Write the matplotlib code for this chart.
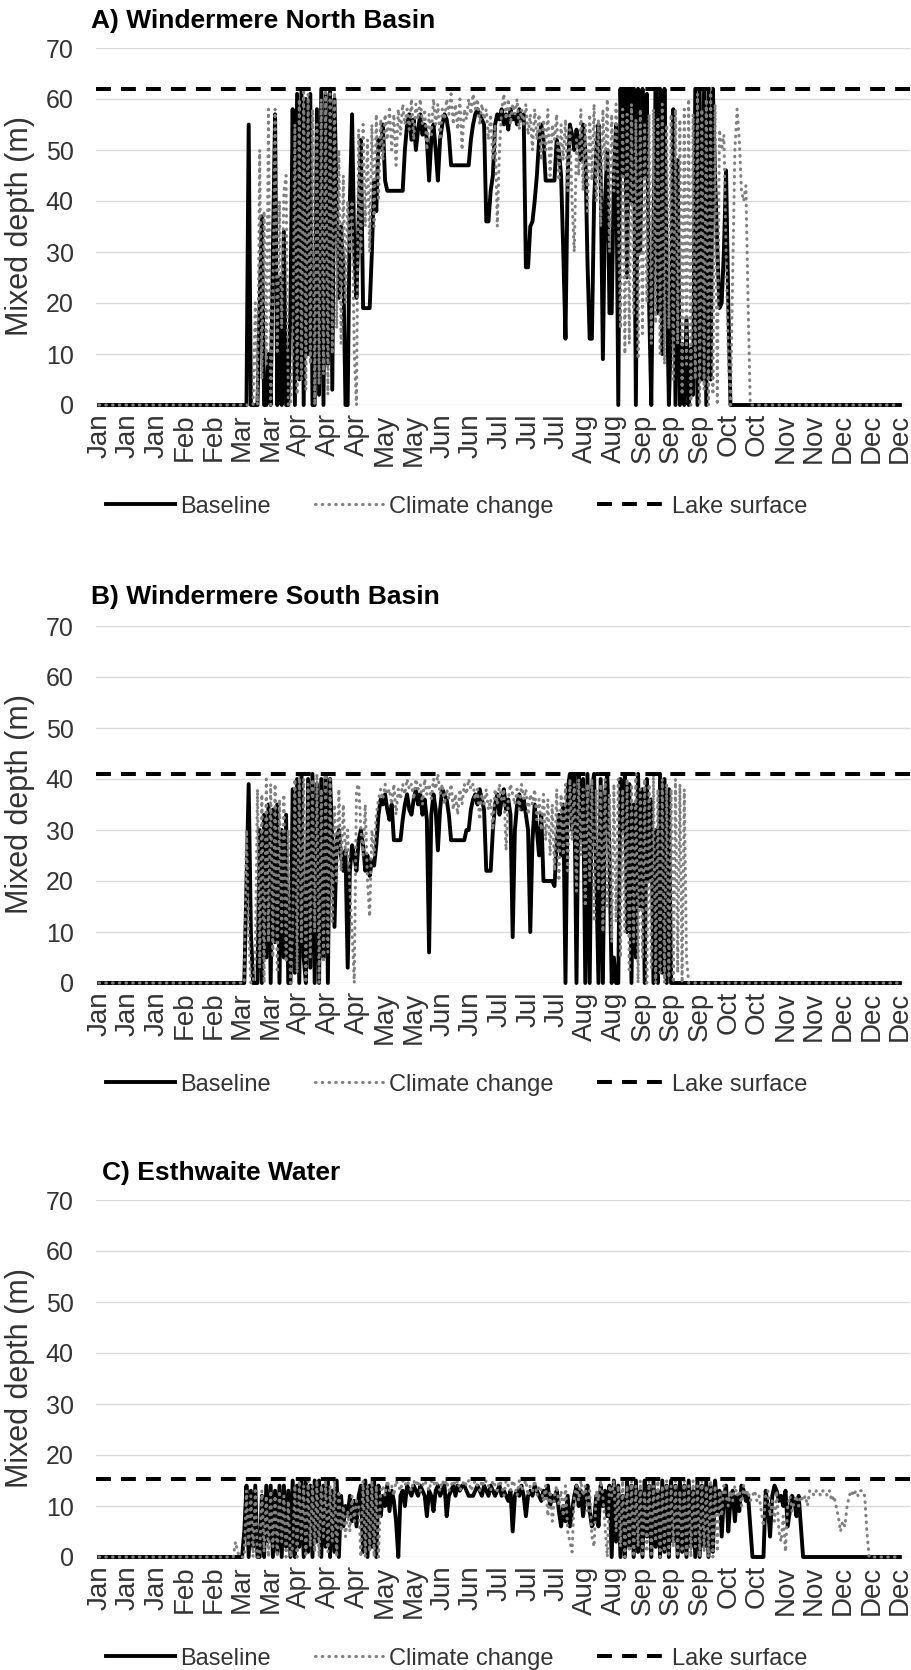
import matplotlib
matplotlib.use("Agg")
import matplotlib.pyplot as plt

plt.rcParams["font.family"] = ["Liberation Sans", "DejaVu Sans"]

month_labels = ["Jan", "Jan", "Jan", "Feb", "Feb", "Mar", "Mar", "Apr", "Apr", "Apr",
                "May", "May", "Jun", "Jun", "Jul", "Jul", "Jul", "Aug", "Aug", "Sep",
                "Sep", "Sep", "Oct", "Oct", "Nov", "Nov", "Dec", "Dec", "Dec"]
label_step = 13

titles = ["A) Windermere North Basin", "B) Windermere South Basin", "C) Esthwaite Water"]
lake_surface = [62, 41, 15.2]

north_baseline = [
    0, 0, 0, 0, 0, 0, 0, 0, 0, 0,  # 0
    0, 0, 0, 0, 0, 0, 0, 0, 0, 0,  # 10
    0, 0, 0, 0, 0, 0, 0, 0, 0, 0,  # 20
    0, 0, 0, 0, 0, 0, 0, 0, 0, 0,  # 30
    0, 0, 0, 0, 0, 0, 0, 0, 0, 0,  # 40
    0, 0, 0, 0, 0, 0, 0, 0, 0, 0,  # 50
    0, 0, 0, 0, 0, 0, 0, 0, 55, 0,  # 60
    0, 0, 0, 20, 37, 0, 0, 10, 0, 30,  # 70
    57, 0, 25, 0, 34, 0, 0, 20, 58, 0,  # 80
    61, 5, 62, 0, 60, 10, 61, 0, 0, 58,  # 90
    2, 62, 0, 61, 8, 62, 3, 60, 40, 21,  # 100
    35, 27, 0, 0, 40, 57, 30, 21, 37, 52,  # 110
    19, 19, 19, 19, 30, 44, 38, 52, 50, 55,  # 120
    44, 42, 42, 42, 42, 42, 42, 42, 42, 50,  # 130
    55, 57, 52, 56, 50, 54, 57, 53, 55, 52,  # 140
    44, 52, 55, 50, 44, 52, 55, 57, 56, 53,  # 150
    47, 47, 47, 47, 47, 47, 47, 47, 47, 52,  # 160
    55, 57, 58, 57, 56, 55, 36, 36, 42, 45,  # 170
    55, 57, 56, 58, 55, 57, 54, 58, 56, 57,  # 180
    55, 58, 56, 57, 27, 27, 35, 36, 40, 45,  # 190
    52, 55, 52, 44, 44, 44, 44, 44, 52, 50,  # 200
    45, 30, 13, 45, 55, 53, 50, 54, 52, 48,  # 210
    55, 50, 28, 13, 13, 40, 50, 55, 45, 9,  # 220
    40, 50, 18, 18, 45, 55, 0, 62, 45, 62,  # 230
    25, 62, 40, 62, 0, 62, 30, 62, 45, 61,  # 240
    20, 0, 35, 62, 18, 62, 10, 62, 25, 0,  # 250
    15, 58, 0, 48, 0, 12, 0, 17, 0, 11,  # 260
    2, 62, 0, 62, 5, 62, 0, 62, 5, 62,  # 270
    45, 31, 19, 20, 30, 46, 20, 0, 0, 0,  # 280
    0, 0, 0, 0, 0, 0, 0, 0, 0, 0,  # 290
    0, 0, 0, 0, 0, 0, 0, 0, 0, 0,  # 300
    0, 0, 0, 0, 0, 0, 0, 0, 0, 0,  # 310
    0, 0, 0, 0, 0, 0, 0, 0, 0, 0,  # 320
    0, 0, 0, 0, 0, 0, 0, 0, 0, 0,  # 330
    0, 0, 0, 0, 0, 0, 0, 0, 0, 0,  # 340
    0, 0, 0, 0, 0, 0, 0, 0, 0, 0,  # 350
    0, 0, 0, 0, 0,  # 360
]

north_climate = [
    0, 0, 0, 0, 0, 0, 0, 0, 0, 0,  # 0
    0, 0, 0, 0, 0, 0, 0, 0, 0, 0,  # 10
    0, 0, 0, 0, 0, 0, 0, 0, 0, 0,  # 20
    0, 0, 0, 0, 0, 0, 0, 0, 0, 0,  # 30
    0, 0, 0, 0, 0, 0, 0, 0, 0, 0,  # 40
    0, 0, 0, 0, 0, 0, 0, 0, 0, 0,  # 50
    0, 0, 0, 0, 0, 0, 0, 0, 0, 0,  # 60
    0, 20, 0, 50, 5, 38, 8, 58, 0, 20,  # 70
    58, 10, 40, 15, 42, 45, 0, 0, 10, 55,  # 80
    2, 60, 5, 62, 3, 61, 8, 58, 0, 55,  # 90
    4, 60, 6, 62, 2, 61, 10, 62, 15, 50,  # 100
    12, 45, 20, 40, 30, 40, 10, 0, 54, 30,  # 110
    55, 35, 52, 30, 55, 35, 57, 40, 56, 48,  # 120
    57, 52, 58, 50, 57, 47, 58, 53, 59, 55,  # 130
    58, 54, 60, 52, 59, 56, 60, 55, 58, 50,  # 140
    57, 53, 60, 55, 59, 52, 58, 56, 60, 57,  # 150
    61, 55, 59, 54, 60, 50, 58, 56, 60, 57,  # 160
    61, 58, 60, 55, 59, 56, 58, 52, 57, 48,  # 170
    55, 35, 50, 58, 61, 56, 60, 55, 59, 57,  # 180
    60, 54, 58, 55, 59, 53, 57, 50, 58, 52,  # 190
    57, 48, 56, 50, 58, 45, 55, 52, 57, 44,  # 200
    55, 48, 56, 42, 54, 40, 30, 52, 45, 58,  # 210
    42, 55, 38, 57, 44, 59, 40, 56, 35, 58,  # 220
    46, 60, 30, 57, 42, 59, 38, 15, 58, 10,  # 230
    57, 12, 59, 18, 56, 9, 58, 14, 55, 20,  # 240
    57, 12, 58, 16, 56, 10, 59, 8, 55, 15,  # 250
    57, 5, 58, 12, 56, 2, 58, 8, 60, 0,  # 260
    57, 5, 61, 0, 58, 3, 60, 0, 62, 2,  # 270
    59, 0, 54, 50, 53, 30, 10, 0, 25, 50,  # 280
    58, 52, 42, 40, 43, 20, 0, 0, 0, 0,  # 290
    0, 0, 0, 0, 0, 0, 0, 0, 0, 0,  # 300
    0, 0, 0, 0, 0, 0, 0, 0, 0, 0,  # 310
    0, 0, 0, 0, 0, 0, 0, 0, 0, 0,  # 320
    0, 0, 0, 0, 0, 0, 0, 0, 0, 0,  # 330
    0, 0, 0, 0, 0, 0, 0, 0, 0, 0,  # 340
    0, 0, 0, 0, 0, 0, 0, 0, 0, 0,  # 350
    0, 0, 0, 0, 0,  # 360
]

south_baseline = [
    0, 0, 0, 0, 0, 0, 0, 0, 0, 0,  # 0
    0, 0, 0, 0, 0, 0, 0, 0, 0, 0,  # 10
    0, 0, 0, 0, 0, 0, 0, 0, 0, 0,  # 20
    0, 0, 0, 0, 0, 0, 0, 0, 0, 0,  # 30
    0, 0, 0, 0, 0, 0, 0, 0, 0, 0,  # 40
    0, 0, 0, 0, 0, 0, 0, 0, 0, 0,  # 50
    0, 0, 0, 0, 0, 0, 0, 20, 39, 10,  # 60
    0, 0, 0, 30, 0, 33, 5, 35, 0, 34,  # 70
    8, 35, 0, 30, 5, 33, 0, 0, 38, 2,  # 80
    40, 0, 41, 5, 0, 40, 3, 41, 0, 39,  # 90
    0, 40, 5, 41, 0, 40, 28, 11, 28, 30,  # 100
    25, 22, 26, 3, 22, 27, 25, 22, 28, 30,  # 110
    27, 22, 25, 21, 24, 23, 27, 33, 36, 35,  # 120
    37, 34, 32, 35, 28, 28, 28, 28, 32, 35,  # 130
    37, 34, 33, 36, 38, 35, 37, 33, 36, 32,  # 140
    6, 33, 37, 34, 26, 34, 38, 37, 36, 33,  # 150
    28, 28, 28, 28, 28, 28, 28, 30, 30, 34,  # 160
    36, 37, 35, 38, 36, 34, 22, 22, 22, 30,  # 170
    35, 37, 33, 36, 38, 34, 36, 33, 9, 30,  # 180
    35, 37, 34, 36, 33, 30, 10, 28, 35, 30,  # 190
    25, 33, 20, 20, 20, 20, 20, 19, 27, 33,  # 200
    25, 35, 0, 38, 41, 30, 41, 0, 41, 28,  # 210
    40, 0, 41, 0, 38, 41, 20, 0, 40, 0,  # 220
    37, 41, 25, 0, 5, 0, 0, 40, 30, 41,  # 230
    10, 39, 0, 35, 5, 41, 15, 38, 0, 40,  # 240
    20, 36, 0, 30, 0, 41, 2, 40, 0, 38,  # 250
    0, 0, 0, 0, 0, 0, 0, 0, 0, 0,  # 260
    0, 0, 0, 0, 0, 0, 0, 0, 0, 0,  # 270
    0, 0, 0, 0, 0, 0, 0, 0, 0, 0,  # 280
    0, 0, 0, 0, 0, 0, 0, 0, 0, 0,  # 290
    0, 0, 0, 0, 0, 0, 0, 0, 0, 0,  # 300
    0, 0, 0, 0, 0, 0, 0, 0, 0, 0,  # 310
    0, 0, 0, 0, 0, 0, 0, 0, 0, 0,  # 320
    0, 0, 0, 0, 0, 0, 0, 0, 0, 0,  # 330
    0, 0, 0, 0, 0, 0, 0, 0, 0, 0,  # 340
    0, 0, 0, 0, 0, 0, 0, 0, 0, 0,  # 350
    0, 0, 0, 0, 0,  # 360
]

south_climate = [
    0, 0, 0, 0, 0, 0, 0, 0, 0, 0,  # 0
    0, 0, 0, 0, 0, 0, 0, 0, 0, 0,  # 10
    0, 0, 0, 0, 0, 0, 0, 0, 0, 0,  # 20
    0, 0, 0, 0, 0, 0, 0, 0, 0, 0,  # 30
    0, 0, 0, 0, 0, 0, 0, 0, 0, 0,  # 40
    0, 0, 0, 0, 0, 0, 0, 0, 0, 0,  # 50
    0, 0, 0, 0, 0, 0, 0, 30, 10, 0,  # 60
    0, 5, 38, 3, 37, 0, 40, 8, 39, 5,  # 70
    39, 2, 36, 10, 37, 4, 30, 0, 10, 40,  # 80
    2, 41, 8, 40, 0, 39, 5, 40, 10, 41,  # 90
    0, 38, 4, 41, 6, 40, 12, 35, 20, 38,  # 100
    22, 35, 25, 30, 18, 10, 0, 38, 39, 30,  # 110
    25, 35, 20, 13, 30, 25, 33, 36, 38, 36,  # 120
    39, 37, 38, 35, 39, 33, 38, 36, 39, 37,  # 130
    40, 38, 39, 36, 40, 38, 39, 35, 40, 37,  # 140
    39, 36, 40, 38, 41, 37, 39, 35, 38, 36,  # 150
    39, 34, 37, 33, 38, 35, 39, 37, 40, 38,  # 160
    39, 36, 38, 32, 37, 35, 38, 34, 36, 30,  # 170
    38, 35, 39, 36, 38, 26, 36, 39, 37, 35,  # 180
    38, 34, 39, 36, 38, 33, 37, 35, 38, 32,  # 190
    36, 30, 37, 28, 36, 25, 35, 22, 38, 20,  # 200
    37, 25, 39, 22, 40, 28, 39, 18, 40, 25,  # 210
    38, 15, 39, 20, 40, 12, 38, 18, 39, 10,  # 220
    40, 15, 37, 8, 39, 12, 40, 5, 38, 10,  # 230
    40, 2, 39, 8, 41, 0, 38, 5, 40, 0,  # 240
    39, 3, 41, 0, 38, 2, 40, 0, 39, 1,  # 250
    38, 0, 40, 2, 39, 0, 38, 5, 0, 0,  # 260
    0, 0, 0, 0, 0, 0, 0, 0, 0, 0,  # 270
    0, 0, 0, 0, 0, 0, 0, 0, 0, 0,  # 280
    0, 0, 0, 0, 0, 0, 0, 0, 0, 0,  # 290
    0, 0, 0, 0, 0, 0, 0, 0, 0, 0,  # 300
    0, 0, 0, 0, 0, 0, 0, 0, 0, 0,  # 310
    0, 0, 0, 0, 0, 0, 0, 0, 0, 0,  # 320
    0, 0, 0, 0, 0, 0, 0, 0, 0, 0,  # 330
    0, 0, 0, 0, 0, 0, 0, 0, 0, 0,  # 340
    0, 0, 0, 0, 0, 0, 0, 0, 0, 0,  # 350
    0, 0, 0, 0, 0,  # 360
]

esthwaite_baseline = [
    0, 0, 0, 0, 0, 0, 0, 0, 0, 0,  # 0
    0, 0, 0, 0, 0, 0, 0, 0, 0, 0,  # 10
    0, 0, 0, 0, 0, 0, 0, 0, 0, 0,  # 20
    0, 0, 0, 0, 0, 0, 0, 0, 0, 0,  # 30
    0, 0, 0, 0, 0, 0, 0, 0, 0, 0,  # 40
    0, 0, 0, 0, 0, 0, 0, 0, 0, 0,  # 50
    0, 0, 0, 0, 0, 0, 5, 14, 0, 13,  # 60
    2, 14, 0, 0, 12, 0, 14, 3, 14, 0,  # 70
    13, 1, 14, 0, 14, 2, 13, 0, 15, 0,  # 80
    14, 2, 15, 0, 15, 1, 14, 0, 15, 3,  # 90
    15, 0, 14, 2, 15, 0, 13, 1, 15, 0,  # 100
    12, 6, 10, 8, 12, 7, 11, 6, 12, 14,  # 110
    1, 15, 0, 14, 2, 15, 0, 14, 8, 12,  # 120
    10, 14, 9, 13, 11, 7, 0, 12, 13, 10,  # 130
    14, 13, 12, 14, 13, 12, 14, 13, 12, 8,  # 140
    13, 12, 9, 13, 14, 12, 13, 14, 8, 12,  # 150
    13, 14, 12, 14, 13, 14, 14, 13, 12, 12,  # 160
    12, 13, 14, 13, 12, 14, 13, 12, 14, 13,  # 170
    12, 13, 14, 12, 13, 12, 11, 13, 5, 12,  # 180
    13, 12, 14, 12, 8, 12, 13, 12, 14, 13,  # 190
    12, 11, 13, 12, 14, 10, 12, 11, 13, 9,  # 200
    6, 10, 7, 12, 6, 9, 12, 14, 10, 13,  # 210
    8, 12, 14, 9, 6, 7, 12, 6, 14, 10,  # 220
    13, 8, 14, 0, 15, 3, 14, 0, 12, 0,  # 230
    15, 2, 14, 0, 15, 1, 13, 0, 15, 4,  # 240
    14, 0, 15, 2, 13, 0, 15, 1, 14, 0,  # 250
    15, 3, 14, 0, 15, 1, 14, 0, 15, 2,  # 260
    13, 0, 15, 0, 14, 2, 15, 0, 14, 1,  # 270
    15, 9, 13, 4, 12, 14, 5, 11, 13, 7,  # 280
    12, 9, 14, 13, 11, 12, 6, 0, 0, 0,  # 290
    0, 0, 0, 13, 10, 4, 12, 14, 13, 11,  # 300
    12, 10, 13, 6, 9, 12, 11, 8, 12, 6,  # 310
    0, 0, 0, 0, 0, 0, 0, 0, 0, 0,  # 320
    0, 0, 0, 0, 0, 0, 0, 0, 0, 0,  # 330
    0, 0, 0, 0, 0, 0, 0, 0, 0, 0,  # 340
    0, 0, 0, 0, 0, 0, 0, 0, 0, 0,  # 350
    0, 0, 0, 0, 0,  # 360
]

esthwaite_climate = [
    0, 0, 0, 0, 0, 0, 0, 0, 0, 0,  # 0
    0, 0, 0, 0, 0, 0, 0, 0, 0, 0,  # 10
    0, 0, 0, 0, 0, 0, 0, 0, 0, 0,  # 20
    0, 0, 0, 0, 0, 0, 0, 0, 0, 0,  # 30
    0, 0, 0, 0, 0, 0, 0, 0, 0, 0,  # 40
    0, 0, 0, 0, 0, 0, 0, 0, 0, 0,  # 50
    0, 0, 3, 1, 0, 0, 0, 13, 2, 12,  # 60
    0, 13, 0, 0, 13, 1, 12, 0, 13, 2,  # 70
    12, 0, 13, 3, 12, 0, 11, 0, 2, 14,  # 80
    0, 15, 3, 14, 0, 15, 2, 14, 1, 15,  # 90
    0, 14, 4, 15, 1, 14, 3, 15, 0, 13,  # 100
    5, 10, 4, 9, 5, 12, 7, 11, 10, 0,  # 110
    15, 0, 14, 1, 15, 0, 14, 0, 13, 14,  # 120
    12, 15, 13, 14, 12, 15, 14, 13, 15, 14,  # 130
    15, 14, 13, 15, 14, 15, 13, 14, 15, 14,  # 140
    13, 15, 14, 15, 14, 13, 15, 14, 15, 13,  # 150
    14, 15, 14, 15, 13, 14, 15, 14, 15, 13,  # 160
    14, 15, 14, 13, 15, 14, 15, 14, 13, 15,  # 170
    14, 13, 15, 14, 12, 15, 14, 13, 15, 14,  # 180
    12, 15, 13, 14, 15, 12, 14, 13, 15, 12,  # 190
    14, 13, 11, 14, 8, 13, 7, 12, 14, 10,  # 200
    13, 8, 14, 5, 3, 1, 12, 14, 11, 15,  # 210
    12, 14, 9, 13, 4, 2, 13, 11, 15, 12,  # 220
    6, 0, 14, 12, 15, 5, 14, 2, 15, 0,  # 230
    14, 1, 15, 0, 14, 2, 15, 0, 13, 1,  # 240
    15, 0, 14, 3, 15, 0, 14, 1, 15, 0,  # 250
    14, 2, 15, 0, 13, 1, 15, 0, 14, 0,  # 260
    15, 2, 14, 0, 15, 1, 14, 0, 15, 0,  # 270
    14, 1, 13, 8, 14, 12, 10, 13, 11, 14,  # 280
    12, 13, 10, 14, 12, 13, 11, 12, 13, 11,  # 290
    12, 9, 6, 12, 13, 8, 11, 7, 13, 5,  # 300
    3, 8, 1, 10, 12, 9, 11, 12, 10, 12,  # 310
    11, 12, 10, 13, 13, 12, 13, 13, 12, 13,  # 320
    13, 12, 13, 11, 12, 10, 8, 5, 7, 6,  # 330
    10, 12, 13, 12, 13, 12, 13, 13, 12, 5,  # 340
    0, 0, 0, 0, 0, 0, 0, 0, 0, 0,  # 350
    0, 0, 0, 0, 0,  # 360
]

panels = [
    (north_baseline, north_climate),
    (south_baseline, south_climate),
    (esthwaite_baseline, esthwaite_climate),
]
for base, cc in panels:
    assert len(base) == 365 and len(cc) == 365, (len(base), len(cc))

days = list(range(len(north_baseline)))

# axes placement in figure pixels (912 x 1670)
axes_bottom_px = [405, 983, 1557]
title_offset = [(-5, 27), (-5, 29), (6, 27)]


def draw_panel(ax, baseline, climate, lake, title, offset):
    ax.plot(days, baseline, color="black", lw=2.8, label="Baseline",
            clip_on=False, zorder=3)
    ax.plot(days, climate, color="#808080", lw=2.2, label="Climate change",
            linestyle=(0, (0.2, 2.0)), dash_capstyle="round", clip_on=False,
            zorder=4)
    ax.axhline(lake, color="black", lw=2.9, linestyle=(0, (3.7, 2.5)),
               label="Lake surface", zorder=5)

    ax.set_xlim(-1.4, 368.6)
    ax.set_ylim(0, 70)
    ax.set_yticks(range(0, 71, 10))
    ax.set_xticks(days[::label_step])
    ax.set_xticklabels(month_labels, rotation=90, fontsize=20, color="#333333")
    ax.tick_params(axis="y", length=0, pad=16, labelsize=18, labelcolor="#333333")
    ax.tick_params(axis="x", length=0, pad=6)
    ax.grid(axis="y", color="#d9d9d9", lw=1.0)
    ax.set_axisbelow(True)
    for s in ax.spines.values():
        s.set_visible(False)

    ax.text(-0.093, 0.5, "Mixed depth (m)", transform=ax.transAxes, rotation=90,
            ha="center", va="center", fontsize=22, color="#333333")
    ax.text(offset[0] / 814, 1 + offset[1] / 357, title, transform=ax.transAxes,
            ha="left", va="center", fontsize=19, fontweight="bold", color="black")
    ax.legend(loc="center", bbox_to_anchor=(0.443, -0.285), ncol=3, frameon=False,
              fontsize=17, handlelength=2.9, handletextpad=0.25, columnspacing=1.85,
              borderaxespad=0, borderpad=0, labelcolor="#333333")


fig = plt.figure(figsize=(9.12, 16.70), dpi=100)
for k, (base, cc) in enumerate(panels):
    bottom = 1 - axes_bottom_px[k] / 1670
    ax = fig.add_axes([96 / 912, bottom, 814 / 912, 357 / 1670])
    draw_panel(ax, base, cc, lake_surface[k], titles[k], title_offset[k])

fig.savefig("out.png", dpi=100)
